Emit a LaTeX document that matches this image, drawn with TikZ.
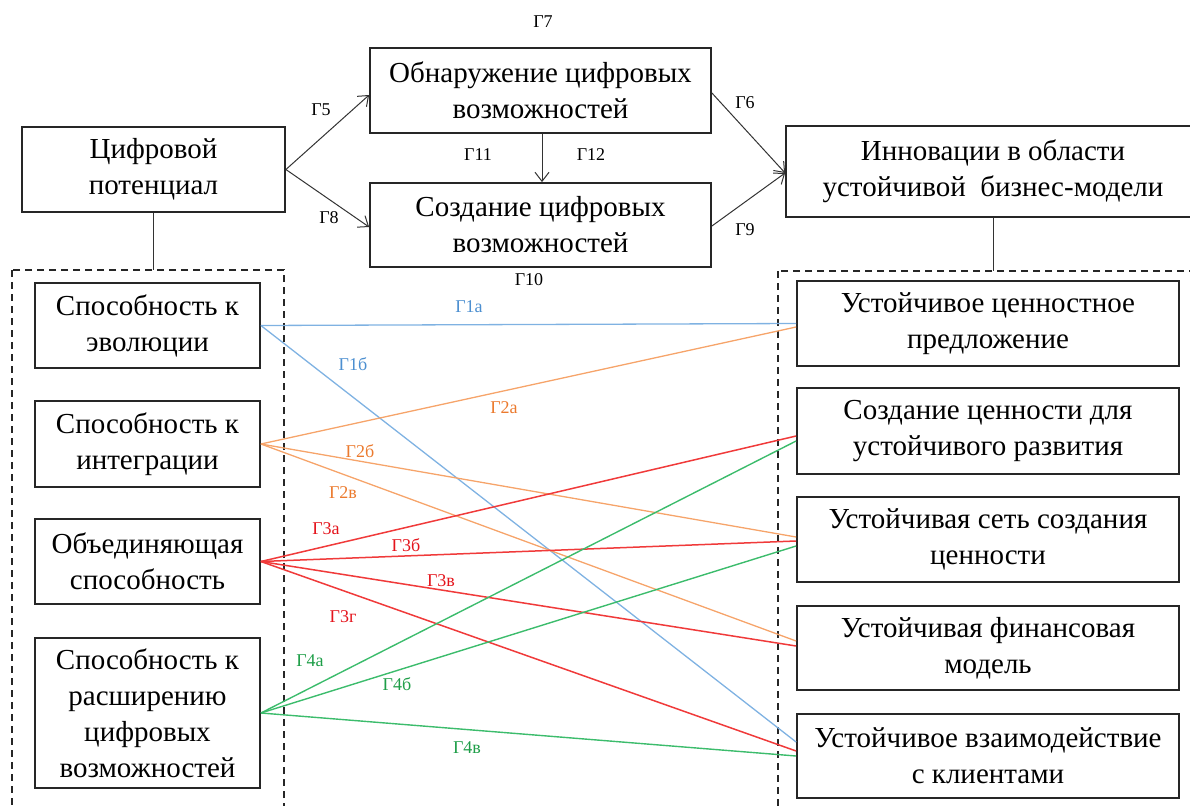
\documentclass[tikz,border=0pt]{standalone}
\usepackage{fontspec}
\setmainfont{Liberation Serif}
\usetikzlibrary{arrows.meta}

\definecolor{lineblue}{HTML}{7FB2E2}
\definecolor{lineorange}{HTML}{F6A46A}
\definecolor{linered}{HTML}{F03A3A}
\definecolor{linegreen}{HTML}{3CBC6C}
\definecolor{txtblue}{HTML}{4C8FD0}
\definecolor{txtorange}{HTML}{EB7A2E}
\definecolor{txtred}{HTML}{E4141C}
\definecolor{txtgreen}{HTML}{1E9E48}

\begin{document}
\begin{tikzpicture}[x=1pt,y=-1pt,
  box/.style={draw=black!85, line width=1.8pt, align=center, inner sep=0pt,
    font=\fontsize{29}{36}\selectfont},
  lbl/.style={font=\fontsize{18}{20}\selectfont, inner sep=0pt},
  conn/.style={draw=black!80, line width=1pt},
  arr/.style={conn, -{Straight Barb[length=9pt,width=14pt]}},
  frame/.style={draw=black!85, line width=1.6pt, dash pattern=on 7pt off 5pt},
  lnblue/.style={draw=lineblue, line width=1.3pt},
  lnorange/.style={draw=lineorange, line width=1.3pt},
  lnred/.style={draw=linered, line width=1.5pt},
  lngreen/.style={draw=linegreen, line width=1.4pt},
  lblue/.style={lbl, text=txtblue},
  lorange/.style={lbl, text=txtorange},
  lred/.style={lbl, text=txtred},
  lgreen/.style={lbl, text=txtgreen}]

\useasboundingbox (0,0) rectangle (1190,805);

% dashed groups (running past the page edges)
\begin{scope}
  \clip (0,0) rectangle (1190,805);
  \draw[frame] (12,270) rectangle (284,830);
  \draw[frame] (778,271) rectangle (1220,830);
\end{scope}

% top row
\node[box, minimum width=263pt, minimum height=85pt] (dp) at (153.5,169.5) {Цифровой\\потенциал};
\node[box, minimum width=341pt, minimum height=85pt] (obn) at (540.5,90.5) {Обнаружение цифровых\\возможностей};
\node[box, minimum width=341pt, minimum height=84pt] (soz) at (540.5,225) {Создание цифровых\\возможностей};
\node[box, minimum width=414pt, minimum height=91pt] (inn) at (993,171.5) {Инновации в области\\устойчивой\ \ бизнес-модели};

% left column: capabilities
\node[box, minimum width=225pt, minimum height=85pt] (l1) at (147.5,325.5) {Способность к\\эволюции};
\node[box, minimum width=225pt, minimum height=86pt] (l2) at (147.5,444) {Способность к\\интеграции};
\node[box, minimum width=225pt, minimum height=85pt] (l3) at (147.5,561.5) {Объединяющая\\способность};
\node[box, minimum width=225pt, minimum height=150pt] (l4) at (147.5,713) {Способность к\\расширению\\цифровых\\возможностей};

% right column: business model elements
\node[box, minimum width=382pt, minimum height=85pt] (r1) at (988,323.5) {Устойчивое ценностное\\предложение};
\node[box, minimum width=382pt, minimum height=86pt] (r2) at (988,431) {Создание ценности для\\устойчивого развития};
\node[box, minimum width=382pt, minimum height=85pt] (r3) at (988,539.5) {Устойчивая сеть создания\\ценности};
\node[box, minimum width=382pt, minimum height=84pt] (r4) at (988,648) {Устойчивая финансовая\\модель};
\node[box, minimum width=382pt, minimum height=84pt] (r5) at (988,756) {Устойчивое взаимодействие\\с клиентами};

% links to the dashed groups
\coordinate (lt) at (153.5,270);
\coordinate (rt) at (993,271);
\draw[conn] (dp.south) -- (lt);
\draw[conn] (inn.south) -- (rt);

% arrows between the top boxes
\draw[arr] (dp.east) -- ([yshift=-4.5pt]obn.west);
\draw[arr] (dp.east) -- ([yshift=-2pt]soz.west);
\draw[arr] ([yshift=-2.5pt]obn.east) -- ([yshift=-1.5pt]inn.west);
\draw[arr] ([yshift=-1pt]soz.east) -- ([yshift=-1.5pt]inn.west);
\draw[arr] ([xshift=1.5pt]obn.south) -- ([xshift=1.5pt]soz.north);

\node[lbl] (g7) at (543,22) {Г7};
\node[lbl] (g5) at (321,110) {Г5};
\node[lbl] (g8) at (329,218) {Г8};
\node[lbl] (g11) at (478,155) {Г11};
\node[lbl] (g12) at (591,155) {Г12};
\node[lbl] (g10) at (529,280) {Г10};
\node[lbl] (g6) at (745,103) {Г6};
\node[lbl] (g9) at (745,230) {Г9};

% capability -> element links
\draw[lnblue] (l1.east) -- (r1.west);
\draw[lnblue] (l1.east) -- ([yshift=14pt]r5.west);

\draw[lnorange] (l2.east) -- ([yshift=-3.5pt]r1.west);
\draw[lnorange] (l2.east) -- ([yshift=2.5pt]r3.west);
\draw[lnorange] (l2.east) -- ([yshift=7pt]r4.west);

\draw[lnred] (l3.east) -- ([yshift=-5pt]r2.west);
\draw[lnred] (l3.east) -- ([yshift=-1.5pt]r3.west);
\draw[lnred] (l3.east) -- ([yshift=2pt]r4.west);
\draw[lnred] (l3.east) -- ([yshift=5pt]r5.west);

\draw[lngreen] (l4.east) -- ([yshift=-10pt]r2.west);
\draw[lngreen] (l4.east) -- ([yshift=-6.5pt]r3.west);
\draw[lngreen] (l4.east) -- (r5.west);

% link labels
\node[lblue] (t1a) at (469,307) {Г1а};
\node[lblue] (t1b) at (353,364) {Г1б};
\node[lorange] (t2a) at (504,408) {Г2а};
\node[lorange] (t2b) at (360,451) {Г2б};
\node[lorange] (t2v) at (343,493) {Г2в};
\node[lred] (t3a) at (326,529) {Г3а};
\node[lred] (t3b) at (406,545) {Г3б};
\node[lred] (t3v) at (441,581) {Г3в};
\node[lred] (t3g) at (343,617) {Г3г};
\node[lgreen] (t4a) at (310,661) {Г4а};
\node[lgreen] (t4b) at (397,684) {Г4б};
\node[lgreen] (t4v) at (467,748) {Г4в};
\end{tikzpicture}
\end{document}
